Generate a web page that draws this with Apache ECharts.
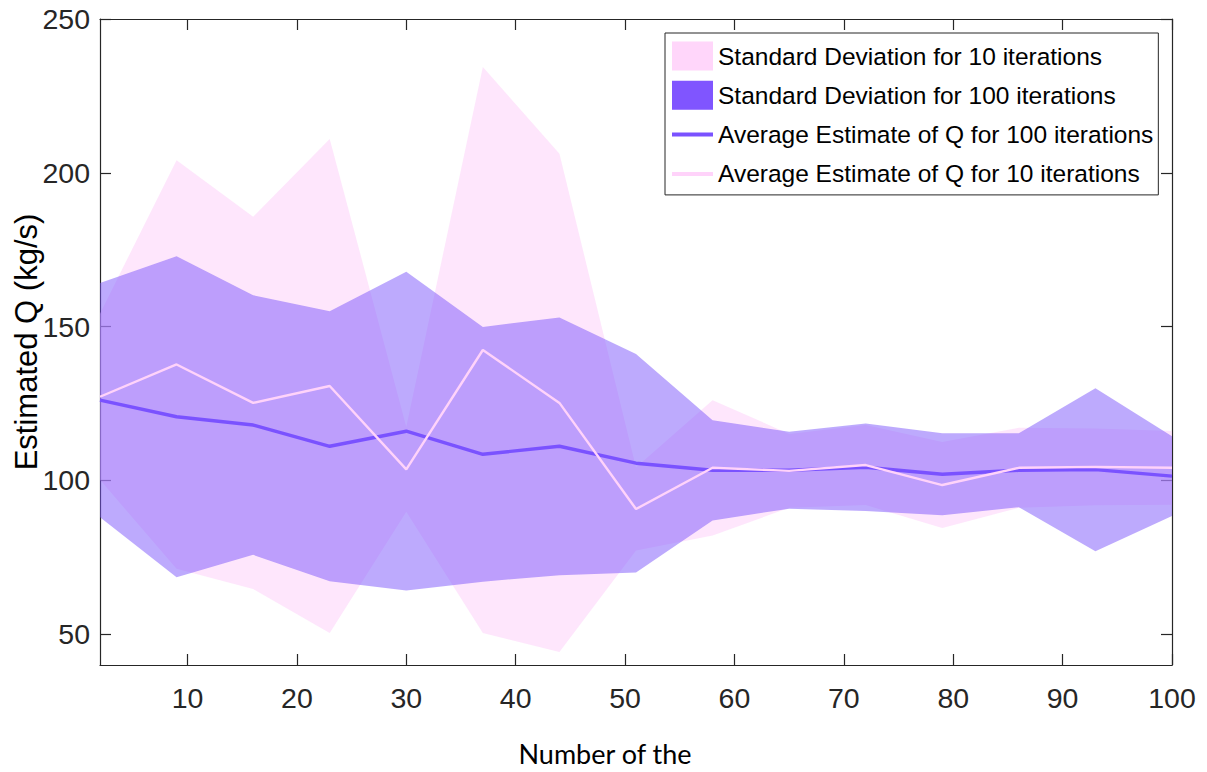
<!DOCTYPE html>
<html>
<head>
<meta charset="utf-8">
<script src="https://cdn.jsdelivr.net/npm/echarts@6/dist/echarts.min.js"></script>
<style>
  html, body { margin: 0; padding: 0; background: #ffffff; }
  #chart { width: 1207px; height: 772px; }
</style>
</head>
<body>
<div id="chart"></div>
<script>
// Iteration index at which Q was estimated
const iterations = [2, 9, 16, 23, 30, 37, 44, 51, 58, 65, 72, 79, 86, 93, 100];

// 10-iteration runs: average estimate and standard deviation (kg/s)
const mean10 = [127.2, 137.7, 125.2, 130.7, 103.6, 142.4, 125.2, 90.7, 104.1, 103.1, 105.0, 98.5, 104.1, 104.4, 104.1];
const std10  = [27.0, 66.4, 60.5, 80.3, 13.8, 92.0, 81.0, 13.5, 22.0, 12.0, 13.0, 14.0, 13.0, 12.5, 12.0];

// 100-iteration runs: average estimate and standard deviation (kg/s)
const mean100 = [126.1, 120.7, 118.0, 111.1, 116.0, 108.5, 111.1, 105.6, 103.3, 103.3, 104.3, 102.0, 103.3, 103.5, 101.4];
const std100  = [38.1, 52.2, 42.2, 43.9, 51.8, 41.4, 41.9, 35.5, 16.3, 12.5, 14.2, 13.3, 12.0, 26.5, 13.0];

// Axis tick values
const xTicks = [10, 20, 30, 40, 50, 60, 70, 80, 90, 100];
const yTicks = [50, 100, 150, 200, 250];

const NAME_SD10 = 'Standard Deviation for 10 iterations';
const NAME_SD100 = 'Standard Deviation for 100 iterations';
const NAME_AVG100 = 'Average Estimate of Q for 100 iterations';
const NAME_AVG10 = 'Average Estimate of Q for 10 iterations';

const pairs = vals => iterations.map((x, i) => [x, vals[i]]);

// Shaded mean ± sd band, drawn as one filled polygon through the axis scales
function bandSeries(name, mean, sd, fill, z) {
  const lo = mean.map((m, i) => +(m - sd[i]).toFixed(3));
  const hi = mean.map((m, i) => +(m + sd[i]).toFixed(3));
  return {
    type: 'custom',
    name: name,
    z: z,
    silent: true,
    clip: true,
    data: iterations.map((x, i) => [x, lo[i], hi[i]]),
    encode: { x: 0, y: [1, 2] },
    renderItem: function (params, api) {
      if (params.dataIndex !== 0) return null;
      const upper = iterations.map((x, i) => api.coord([x, hi[i]]));
      const lower = iterations.map((x, i) => api.coord([x, lo[i]])).reverse();
      return {
        type: 'polygon',
        shape: { points: upper.concat(lower) },
        style: { fill: fill, opacity: 0.5 }
      };
    }
  };
}

const AXIS_COLOR = '#262626';
const axisLineStyle = { color: AXIS_COLOR, width: 1.2 };
const tickFont = { fontFamily: 'Liberation Sans, Arial, sans-serif', fontSize: 28.5, color: AXIS_COLOR };

// Line legend icon: a 4px bar centred in a 41x29 box
const LINE_ICON = 'path://M0,0H0.01V0.01H0Z M0,12.5H41V16.5H0Z M40.99,28.99H41V29H40.99Z';

const chart = echarts.init(document.getElementById('chart'), null, { renderer: 'svg' });

chart.setOption({
  animation: false,
  backgroundColor: '#ffffff',
  textStyle: { fontFamily: 'Liberation Sans, Arial, sans-serif' },
  grid: { left: 100, right: 35, top: 19, bottom: 107, containLabel: false, outerBoundsMode: 'none' },
  legend: {
    orient: 'vertical',
    left: 665,
    top: 33,
    padding: [8.5, 5, 6.5, 7],
    itemWidth: 41,
    itemHeight: 29,
    itemGap: 10.3,
    backgroundColor: '#ffffff',
    borderColor: AXIS_COLOR,
    borderWidth: 1,
    selectedMode: false,
    symbolKeepAspect: true,
    textStyle: { fontSize: 24.5, lineHeight: 29, color: '#000000', fontFamily: 'Liberation Sans, Arial, sans-serif' },
    data: [
      { name: NAME_SD10, icon: 'rect', itemStyle: { color: '#ffd6fa', borderWidth: 0 } },
      { name: NAME_SD100, icon: 'rect', itemStyle: { color: '#8055ff', borderWidth: 0 } },
      { name: NAME_AVG100, icon: LINE_ICON, itemStyle: { color: '#7a52ff', borderWidth: 0 } },
      { name: NAME_AVG10, icon: LINE_ICON, itemStyle: { color: '#ffd3fa', borderWidth: 0 } }
    ]
  },
  xAxis: [
    {
      type: 'value', min: 2, max: 100, position: 'bottom',
      name: 'Number of the',
      nameLocation: 'middle',
      nameGap: 75,
      nameMoveOverlap: false,
      nameTextStyle: { fontFamily: 'Lato, Open Sans, sans-serif', fontSize: 27, color: '#000000', padding: [0, 62, 0, 0] },
      axisLine: { show: true, onZero: false, lineStyle: axisLineStyle },
      axisTick: { show: true, inside: true, length: 11, customValues: xTicks, lineStyle: axisLineStyle },
      axisLabel: Object.assign({ customValues: xTicks, margin: 18 }, tickFont),
      splitLine: { show: false }
    },
    {
      type: 'value', min: 2, max: 100, position: 'top',
      axisLine: { show: true, onZero: false, lineStyle: axisLineStyle },
      axisTick: { show: true, inside: true, length: 11, customValues: xTicks, lineStyle: axisLineStyle },
      axisLabel: { show: false },
      splitLine: { show: false }
    }
  ],
  yAxis: [
    {
      type: 'value', min: 40, max: 250, position: 'left',
      name: 'Estimated Q (kg/s)',
      nameLocation: 'middle',
      nameGap: 58,
      nameMoveOverlap: false,
      nameTextStyle: { fontSize: 31, color: '#000000', fontFamily: 'Liberation Sans, Arial, sans-serif' },
      axisLine: { show: true, onZero: false, lineStyle: axisLineStyle },
      axisTick: { show: true, inside: true, length: 11, customValues: yTicks, lineStyle: axisLineStyle },
      axisLabel: Object.assign({ customValues: yTicks, margin: 10 }, tickFont),
      splitLine: { show: false }
    },
    {
      type: 'value', min: 40, max: 250, position: 'right',
      axisLine: { show: true, onZero: false, lineStyle: axisLineStyle },
      axisTick: { show: true, inside: true, length: 11, customValues: yTicks, lineStyle: axisLineStyle },
      axisLabel: { show: false },
      splitLine: { show: false }
    }
  ],
  series: [
    bandSeries(NAME_SD10, mean10, std10, '#fdcdf9', 1),
    bandSeries(NAME_SD100, mean100, std100, '#7c56fb', 2),
    {
      name: NAME_AVG100, type: 'line', silent: true,
      data: pairs(mean100),
      symbol: 'none',
      itemStyle: { color: '#7a52ff' },
      lineStyle: { color: '#7a52ff', width: 3.4 }, z: 3
    },
    {
      name: NAME_AVG10, type: 'line', silent: true,
      data: pairs(mean10),
      symbol: 'none',
      itemStyle: { color: '#ffd3fa' },
      lineStyle: { color: '#ffd3fa', width: 2.4 }, z: 4
    }
  ]
});
</script>
</body>
</html>
